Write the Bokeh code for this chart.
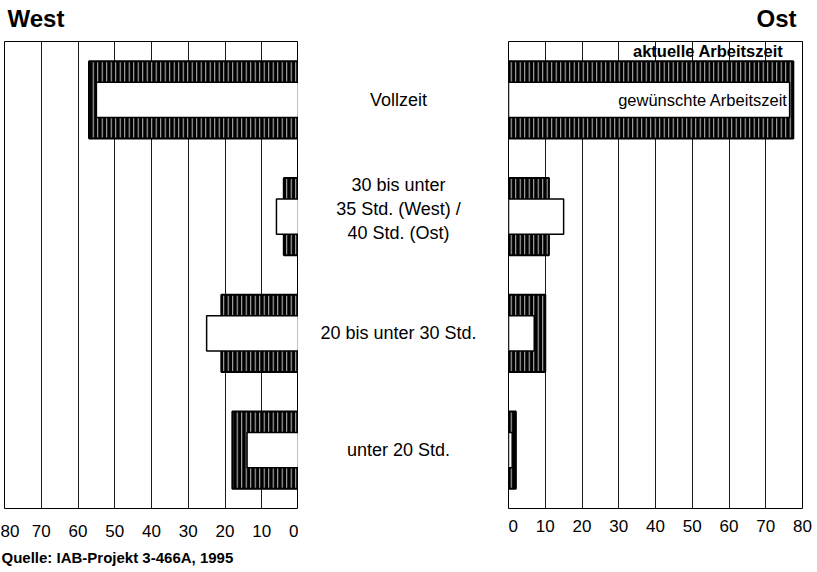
from bokeh.plotting import figure
from bokeh.layouts import row, column
from bokeh.models import Range1d, FactorRange, Label, ColumnDataSource
from bokeh.core.properties import value
from bokeh.embed import file_html
from bokeh.resources import INLINE

# ---- data ----
categories = ["Vollzeit",
              "30 bis unter\n35 Std. (West) /\n40 Std. (Ost)",
              "20 bis unter 30 Std.",
              "unter 20 Std."]
west_aktuell = [57, 4, 21, 18]
west_gewuenscht = [55, 6, 25, 14]
ost_aktuell = [77.5, 11, 10, 2]
ost_gewuenscht = [76.5, 15, 7, 1]
x_ticks = [0, 10, 20, 30, 40, 50, 60, 70, 80]
panel_titles = ["West", "Ost"]
series_names = ["aktuelle Arbeitszeit", "gewünschte Arbeitszeit"]
source_text = "Quelle: IAB-Projekt 3-466A, 1995"

FONT = "Liberation Sans"
W = 817
TOP_H = 41
MAIN_H = 504
BOT_H = 27
factors = list(reversed(categories))


def strip(height):
    s = figure(width=W, height=height, x_range=Range1d(0, W),
               y_range=Range1d(0, height), output_backend="svg",
               toolbar_location=None, min_border=0,
               x_axis_location=None, y_axis_location=None)
    s.outline_line_color = None
    s.xgrid.visible = False
    s.ygrid.visible = False
    s.border_fill_color = "white"
    return s


def panel(x_range, width, b_left, b_right, standoff):
    p = figure(width=width, height=MAIN_H, x_range=x_range,
               y_range=FactorRange(factors=factors),
               output_backend="svg", toolbar_location=None,
               min_border_left=b_left, min_border_right=b_right,
               min_border_top=0, min_border_bottom=37,
               y_axis_location=None)
    p.outline_line_color = "black"
    p.outline_line_width = 1
    p.background_fill_color = "white"
    p.border_fill_color = "white"
    p.ygrid.visible = False
    p.xgrid.ticker = x_ticks
    p.xgrid.grid_line_color = "#1a1a1a"
    p.xgrid.grid_line_width = 1
    ax = p.xaxis[0]
    ax.ticker = x_ticks
    ax.axis_line_color = None
    ax.major_tick_line_color = None
    ax.minor_tick_line_color = None
    ax.major_label_text_font = FONT
    ax.major_label_text_font_size = "17px"
    ax.major_label_text_color = "black"
    ax.major_label_standoff = standoff
    return p


def bars(p, src, act, des):
    p.hbar(y="cat", left=0, right=act, height=0.66, source=src,
           fill_color="black", hatch_pattern="vertical_line",
           hatch_color="#c4c4c4", hatch_scale=4.5, hatch_weight=1,
           line_color="black", line_width=2)
    p.hbar(y="cat", left=0, right=des, height=0.30, source=src,
           fill_color="white", line_color="black", line_width=1.5)


src = ColumnDataSource(dict(cat=categories,
                            wa=west_aktuell, wg=west_gewuenscht,
                            oa=ost_aktuell, og=ost_gewuenscht))

# ---- top strip with panel titles ----
top = strip(TOP_H)
top.text(x=[7], y=[23.5], text=[panel_titles[0]], text_align="left",
         text_baseline="middle", text_font=value(FONT),
         text_font_size="24px", text_font_style="bold", text_color="black")
top.text(x=[796], y=[23.5], text=[panel_titles[1]], text_align="right",
         text_baseline="middle", text_font=value(FONT),
         text_font_size="24px", text_font_style="bold", text_color="black")

# ---- West ----
pw = panel(Range1d(80, 0), 298, 4, 0, 10)
bars(pw, src, "wa", "wg")

# ---- middle labels ----
pm = figure(width=210, height=MAIN_H, x_range=Range1d(0, 210),
            y_range=FactorRange(factors=factors),
            output_backend="svg", toolbar_location=None,
            min_border_left=0, min_border_right=0,
            min_border_top=0, min_border_bottom=37,
            x_axis_location=None, y_axis_location=None)
pm.outline_line_color = None
pm.xgrid.visible = False
pm.ygrid.visible = False
pm.border_fill_color = "white"
single = [categories[0], categories[2], categories[3]]
pm.text(x=100, y=single, text=single, text_align="center",
        text_baseline="middle", text_font=value(FONT),
        text_font_size="18px", text_color="black")
pm.text(x=100, y=[categories[1]], text=[categories[1]], text_align="center",
        text_baseline="middle", text_font=value(FONT),
        text_font_size="18px", text_color="black",
        text_line_height=1.2, y_offset=-8)

# ---- Ost ----
po = panel(Range1d(0, 80), 309, 0, 15, 5)
bars(po, src, "oa", "og")
po.add_layout(Label(x=74.8, y=3.9186, text=series_names[0],
                    text_font=FONT, text_font_size="16.5px",
                    text_font_style="bold", text_align="right",
                    text_baseline="middle", text_color="black"))
po.add_layout(Label(x=76.0, y=3.5, text=series_names[1],
                    text_font=FONT, text_font_size="16.5px",
                    text_align="right",
                    text_baseline="middle", text_color="black"))

# ---- bottom strip with source ----
bot = strip(BOT_H)
bot.text(x=[1], y=[15], text=[source_text], text_align="left",
         text_baseline="middle", text_font=value(FONT),
         text_font_size="15px", text_font_style="bold", text_color="black")

layout = column(top, row(pw, pm, po), bot)

open("out.html", "w").write(file_html(layout, INLINE))
